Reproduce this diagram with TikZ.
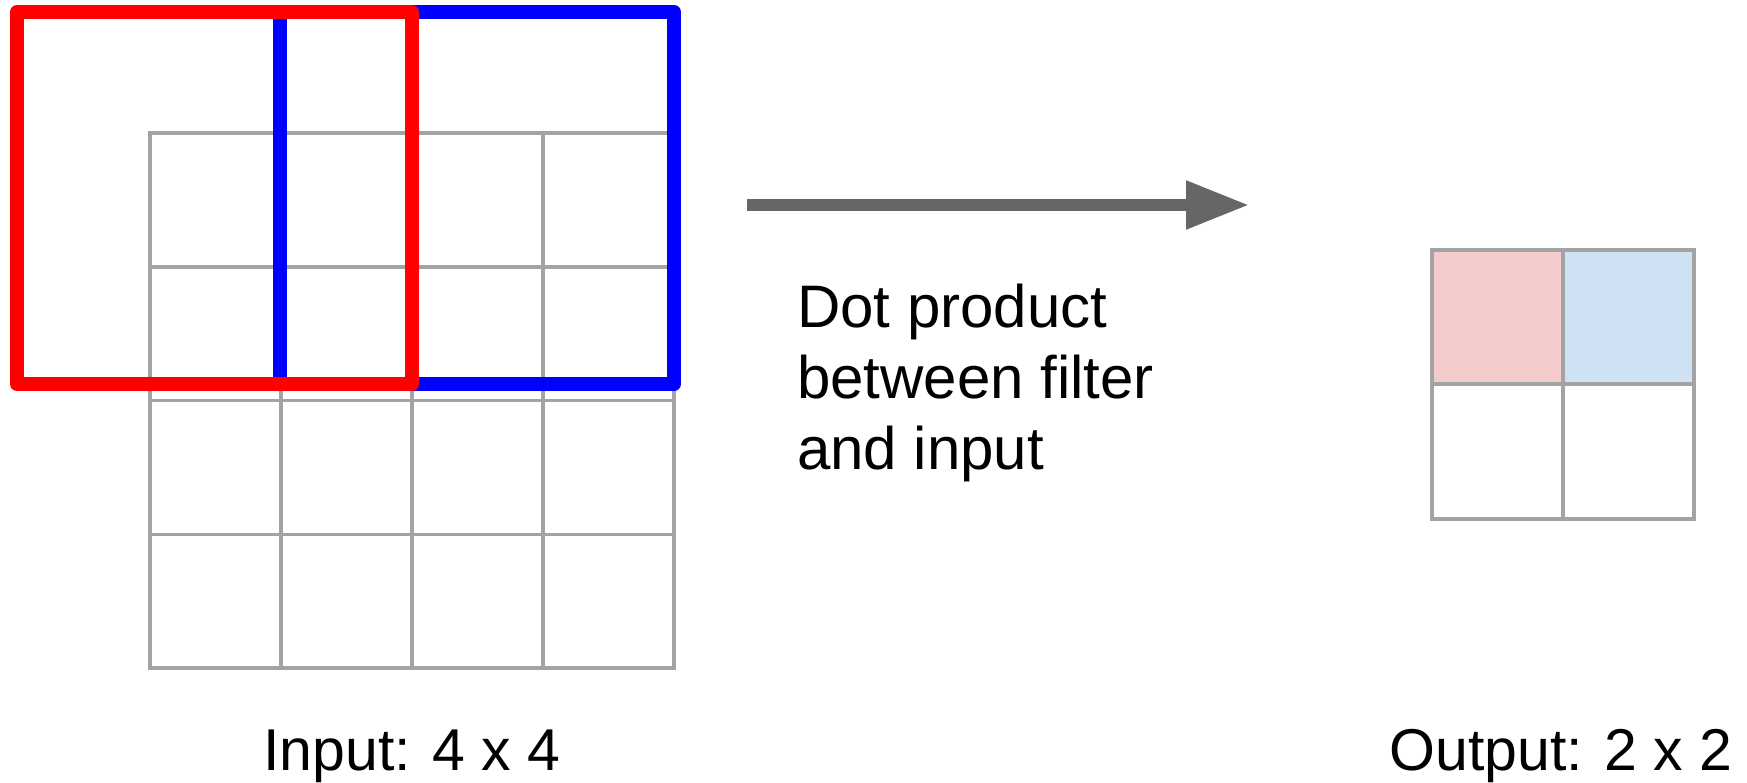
\documentclass[tikz,border=0pt]{standalone}
\usepackage{fontspec}
\setmainfont{Liberation Sans}
\usetikzlibrary{arrows.meta}
\definecolor{gridgray}{HTML}{A3A3A3}
\definecolor{arrowgray}{HTML}{666666}
\definecolor{pinkfill}{HTML}{F4CCCC}
\definecolor{bluefill}{HTML}{CFE2F3}
\begin{document}
\begin{tikzpicture}[x=1pt,y=-1pt,
  gridline/.style={draw=gridgray,line width=3.5pt},
  filterbox/.style={line width=14pt,line join=round},
  lbl/.style={font=\fontsize{59}{71}\selectfont,inner sep=0pt},
  dottext/.style={font=\fontsize{60}{71}\selectfont,inner sep=0pt}]
\useasboundingbox (0,0) rectangle (1747,782);
% input grid 4x4
\foreach \i in {0,...,4} \draw[gridline] ({150+131*\i},133) -- ({150+131*\i},668);
\foreach \j in {0,...,4} \draw[gridline] (150,{133+133.75*\j}) -- (674,{133+133.75*\j});
\draw[gridline] (150,133) rectangle (674,668);
% filters
\draw[filterbox,draw=blue] (280,12) rectangle (674,384);
\draw[filterbox,draw=red] (17,12) rectangle (412,384);
% output grid 2x2
\fill[pinkfill] (1432,250) rectangle (1563,384);
\fill[bluefill] (1563,250) rectangle (1694,384);
\draw[gridline] (1432,250) rectangle (1694,519);
\draw[gridline] (1563,250) -- (1563,519);
\draw[gridline] (1432,384) -- (1694,384);
% arrow
\coordinate (arrowstart) at (747,205);
\coordinate (arrowend) at (1249,205);
\draw[draw=arrowgray,line width=11.5pt,-{Triangle[length=63pt,width=46pt]}] (arrowstart) -- (arrowend);
% texts
\node[dottext,anchor=base west] (dot1) at (797,327) {Dot product};
\node[dottext,anchor=base west] (dot2) at (797,398) {between filter};
\node[dottext,anchor=base west] (dot3) at (797,469) {and input};
\node[lbl,anchor=base] (inlabel) at (412,770) {Input: 4 x 4};
\node[lbl,anchor=base] (outlabel) at (1561,770) {Output: 2 x 2};
\end{tikzpicture}
\end{document}
